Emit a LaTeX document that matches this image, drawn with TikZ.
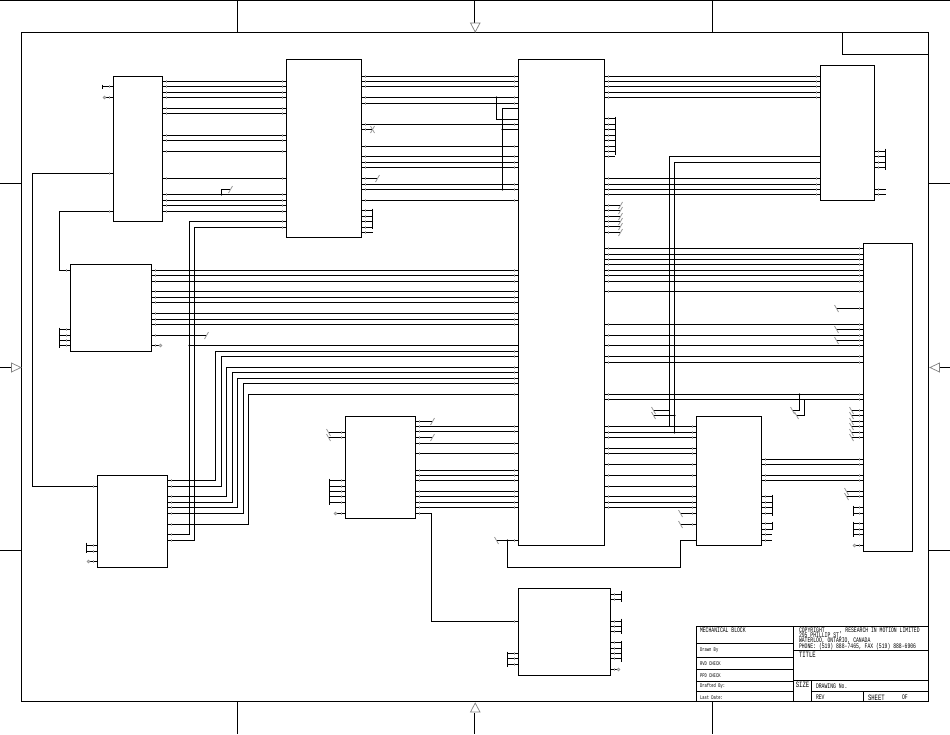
\documentclass[tikz,border=0pt]{standalone}
\usepackage{fontspec}
\newfontfamily\plotfont[FakeStretch=0.68]{Liberation Mono}
\usetikzlibrary{calc,positioning}

\newcommand{\tightlines}{\lineskiplimit=-10pt\relax}
\newcommand{\pintick}[2]{\draw[pin] ($(#1)!4pt!(#2)$) ++(0,-1.5) -- ++(0,3);}
\newcommand{\wires}[3]{\foreach \y in {#3}{
    \coordinate (pa) at (#1 |- 0,\y);
    \coordinate (pb) at (#2 |- 0,\y);
    \draw (pa) -- (pb);
    \pintick{pa}{pb}\pintick{pb}{pa}}}
\newcommand{\stubs}[3]{\foreach \y/\x in {#2}{
    \coordinate (pe) at (\x,\y);
    \coordinate (pa) at (#1 |- pe);
    \draw (pa) -- (pe);
    \pintick{pa}{pe}#3}}
\newcommand{\bentwire}[5]{
    \coordinate (pa) at (#3,#4);
    \coordinate (pb) at (#3,#5);
    \draw (#1 |- pa) -- (pa) -- (pb) -- (#2 |- pb);
    \pintick{#1 |- pa}{pa}\pintick{#2 |- pb}{pb}}
\newcommand{\busbar}[3]{
    \coordinate (pa) at (#1,#2);
    \coordinate (pb) at (#1,#3);
    \draw (pa) -- (pb);}
\newcommand{\jdot}[2]{\fill (#1,#2) circle (1.1);}
\newcommand{\tipslash}{\draw[tip] ([shift={(-2,3.5)}]pe) -- ([shift={(2,-3.5)}]pe);}
\newcommand{\tipback}{\draw[tip] ([shift={(-2,-3.5)}]pe) -- ([shift={(2,3.5)}]pe);}
\newcommand{\tipx}{\tipslash\tipback}
\newcommand{\tipring}{\draw[tip,fill=white] (pe) circle (1.3);}

\begin{document}
\begin{tikzpicture}[x=1pt,y=-1pt,shift={(0.5,0.5)},line width=1pt,
    block/.style={draw,anchor=north west,inner sep=0pt,outer sep=0pt},
    pin/.style={line width=0.6pt,gray!65},
    tip/.style={line width=0.8pt,gray!80},
    flag/.style={draw=gray,line width=0.7pt},
    tbtext/.style={anchor=west,inner sep=0pt,font=\plotfont\fontsize{7}{7}\selectfont},
    tbsmall/.style={anchor=west,inner sep=0pt,font=\plotfont\fontsize{5.6}{6}\selectfont},
    tbbig/.style={anchor=west,inner sep=0pt,font=\plotfont\fontsize{8.2}{8}\selectfont}]

\useasboundingbox (-0.5,-0.5) rectangle (949.5,733.5);

\draw (-0.5,0) -- (949.5,0);
\draw (21,32) rectangle (928,701);
\draw (842,32) |- (928,54);
\foreach \x in {237,712} {
    \draw (\x,0) -- (\x,32);
    \draw (\x,701) -- (\x,733.5);
}
\foreach \y in {183,550} {
    \draw (-0.5,\y) -- (21,\y);
    \draw (928,\y) -- (949.5,\y);
}
\draw (474,0) -- (474,22);
\draw (474,712) -- (474,733.5);
\draw (-0.5,367) -- (11,367);
\draw (949.5,367) -- (939,367);
\draw[flag] (470,22.5) -- (479.5,22.5) -- (474.7,31.5) -- cycle;
\draw[flag] (470,711.5) -- (479.5,711.5) -- (474.7,702.5) -- cycle;
\draw[flag] (11,362.5) -- (11,371.5) -- (20.5,367) -- cycle;
\draw[flag] (939,362.5) -- (939,371.5) -- (929.5,367) -- cycle;

\node[block,minimum width=49,minimum height=145] (U_A) at (113,76) {};
\node[block,minimum width=75,minimum height=178] (U_B) at (286,59) {};
\node[block,minimum width=86,minimum height=486] (U_C) at (518,59) {};
\node[block,minimum width=54,minimum height=135] (U_D) at (820,65) {};
\node[block,minimum width=49,minimum height=308] (U_E) at (863,243) {};
\node[block,minimum width=65,minimum height=129] (U_F) at (696,416) {};
\node[block,minimum width=81,minimum height=87] (U_G) at (70,264) {};
\node[block,minimum width=70,minimum height=92] (U_H) at (97,475) {};
\node[block,minimum width=70,minimum height=102] (U_I) at (345,416) {};
\node[block,minimum width=92,minimum height=87] (U_J) at (518,588) {};

\wires{U_A.east}{U_B.west}{81,86,92,97,108,113,135,140,151,178,194,200,205,211}
\wires{U_B.east}{U_C.west}{76,81,86,97,103,124,146,156,162,167,184,189,200}
\wires{U_C.east}{U_D.west}{76,81,86,92,97,178,184,189,194}
\wires{U_C.east}{U_E.west}{248,254,259,264,270,275,281,291,324,335,345,356,362,394,399}
\wires{U_C.east}{U_F.west}{426,432,437,448,453,464,475,486,496,502,507}
\wires{U_F.east}{U_E.west}{459,464,475,480}
\wires{U_G.east}{U_C.west}{270,275,281,291,297,302,313,319,324}
\wires{U_I.east}{U_C.west}{426,431,443,453,470,475,480,491,496,502,507}

\foreach \ya/\x/\yb in {480/215/351,486/221/356,496/226/367,502/232/372,
    507/237/378,513/243/383,524/248/394} {
    \bentwire{U_H.east}{U_C.west}{\x}{\ya}{\yb}
}
\bentwire{U_H.east}{U_B.west}{189}{534}{221}
\bentwire{U_H.east}{U_B.west}{194}{540}{227}
\bentwire{U_A.west}{U_H.west}{32}{173}{486}
\bentwire{U_A.west}{U_G.west}{59}{211}{270}
\bentwire{U_I.east}{U_J.west}{431}{513}{621}

\coordinate (pa) at (189,345);
\draw (pa) -- (U_C.west |- pa);
\jdot{189}{345}

\coordinate (pa) at (496,97);
\coordinate (pb) at (496,119);
\draw (pa) -- (pb) -- (U_C.west |- pb);
\jdot{496}{97}
\coordinate (pa) at (502,108);
\coordinate (pb) at (502,189);
\draw (U_C.west |- pa) -- (pa) -- (pb);
\jdot{502}{189}
\coordinate (pa) at (502,129);
\draw (pa) -- (U_C.west |- pa);
\jdot{502}{129}

\coordinate (pa) at (669,156);
\coordinate (pb) at (669,426);
\draw (U_D.west |- pa) -- (pa) -- (pb);
\coordinate (pa) at (674,162);
\coordinate (pb) at (674,432);
\draw (U_D.west |- pa) -- (pa) -- (pb);
\jdot{674}{432}
\coordinate (pe) at (653,410);
\draw (669,410) -- (pe);
\tipback
\coordinate (pe) at (653,415);
\draw (674,415) -- (pe);
\tipback
\jdot{674}{415}

\coordinate (pa) at (799,394);
\coordinate (pb) at (799,410);
\coordinate (pe) at (792,410);
\draw (pa) -- (pb) -- (pe);
\tipback
\jdot{799}{394}
\coordinate (pa) at (804,399);
\coordinate (pb) at (804,415);
\coordinate (pe) at (796,415);
\draw (pa) -- (pb) -- (pe);
\tipback

\coordinate (pa) at (221,194);
\coordinate (pb) at (221,189);
\coordinate (pe) at (230,189);
\draw (pa) -- (pb) -- (pe);
\tipslash
\jdot{221}{194}

\coordinate (pa) at (680,540);
\coordinate (pb) at (680,567);
\coordinate (pc) at (507,567);
\coordinate (pd) at (507,540);
\draw (U_F.west |- pa) -- (pa) -- (pb) -- (pc) -- (pd);
\jdot{507}{540}

\stubs{U_A.west}{86/102}{}
\busbar{102}{84}{88}
\stubs{U_A.west}{97/104}{\tipring}

\stubs{U_B.east}{129/372}{\tipx}
\stubs{U_B.east}{178/377}{\tipslash}
\busbar{372}{208}{228}
\stubs{U_B.east}{210/372,216/372,221/372,227/372,232/372}{}

\busbar{615}{116}{154}
\stubs{U_C.east}{118/615,124/615,129/615,135/615,140/615,146/615,151/615,156/614}{}
\stubs{U_C.east}{205/620,210/620,216/620,221/620,226/620,232/620}{\tipslash}
\stubs{U_C.west}{540/496}{\tipback}

\busbar{885}{148}{169}
\stubs{U_D.east}{151/885,156/885,162/885,167/885,189/885,194/885}{}

\stubs{U_E.west}{308/836,329/836,340/836,410/851,415/851,421/851,426/851,432/851,437/851,491/846,496/846}{\tipback}
\busbar{853}{505}{515}
\busbar{853}{521}{536}
\stubs{U_E.west}{507/853,513/853,523/853,529/853,534/853}{}
\stubs{U_E.west}{545/854}{\tipring}

\busbar{772}{494}{515}
\busbar{772}{521}{529}
\stubs{U_F.east}{496/772,502/772,507/772,513/772,523/772,529/772,534/771,540/771}{}
\stubs{U_F.west}{513/680,524/680}{\tipback}

\busbar{59}{327}{347}
\stubs{U_G.west}{329/59,335/59,340/59,345/59}{}
\stubs{U_G.east}{335/206}{\tipslash}
\stubs{U_G.east}{345/160}{\tipring}

\busbar{86}{542}{552}
\stubs{U_H.west}{545/86,551/86}{}
\stubs{U_H.west}{561/88}{\tipring}

\stubs{U_I.west}{432/328,437/328}{\tipback}
\busbar{329}{478}{504}
\stubs{U_I.west}{480/329,486/329,491/329,496/329,502/329}{}
\stubs{U_I.west}{513/335}{\tipring}
\stubs{U_I.east}{421/432,437/432}{\tipslash}

\busbar{621}{590}{601}
\busbar{621}{618}{633}
\busbar{621}{640}{661}
\stubs{U_J.east}{594/621,599/621,621/621,626/621,631/621,642/621,648/621,653/621,658/621}{}
\stubs{U_J.east}{669/618}{\tipring}
\busbar{507}{651}{666}
\stubs{U_J.west}{653/507,658/507,664/507}{}

\draw (696,626) rectangle (928,701);
\draw (793,626) -- (793,701);
\foreach \y in {643,657,669,681,691} {
    \draw (696,\y) -- (793,\y);
}
\draw (793,650) -- (928,650);
\draw (793,680) -- (928,680);
\draw (811,691) -- (928,691);
\draw (811,680) -- (811,701);
\draw (863,691) -- (863,701);

\node[tbtext] (tb_block) at (699,630) {MECHANICAL BLOCK};
\node[tbsmall] (tb_drawn) at (699,650) {Drawn By};
\node[tbsmall] (tb_rvd) at (699,663) {RVD CHECK};
\node[tbsmall] (tb_ppd) at (699,675) {PPD CHECK};
\node[tbsmall] (tb_drafted) at (699,686) {Drafted By:};
\node[tbsmall] (tb_last) at (699,697) {Last Date:};
\node[anchor=north west,inner sep=0pt,align=left,font=\plotfont\fontsize{7}{5.4}\selectfont\tightlines] (tb_addr) at (798,626.5)
    {COPYRIGHT\hspace{15pt}, RESEARCH IN MOTION LIMITED\\295 PHILLIP ST.\\WATERLOO, ONTARIO, CANADA\\PHONE: (519) 888-7465, FAX (519) 888-6906};
\node[tbbig] (tb_title) at (798,654.5) {TITLE};
\node[tbbig] (tb_size) at (794.8,684.3) {SIZE};
\node[tbtext] (tb_dwg) at (815,686) {DRAWING No.};
\node[tbtext] (tb_rev) at (815,697) {REV};
\node[tbbig] (tb_sheet) at (867,697) {SHEET};
\node[tbtext] (tb_of) at (901,697) {OF};

\end{tikzpicture}
\end{document}
